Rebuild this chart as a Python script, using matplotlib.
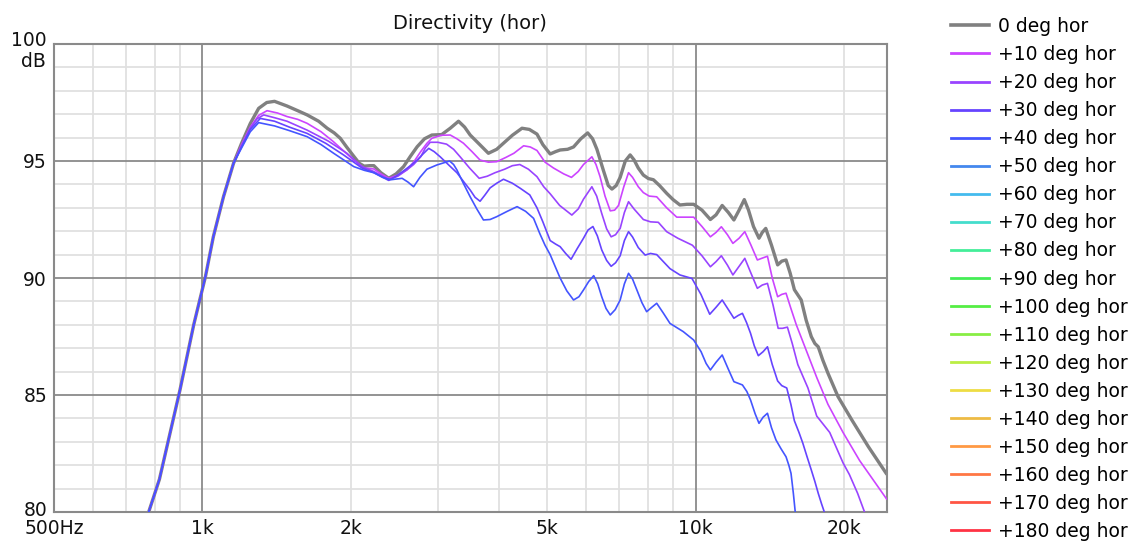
import matplotlib
matplotlib.use("Agg")
import matplotlib.pyplot as plt
from matplotlib.lines import Line2D
from matplotlib.transforms import ScaledTranslation

# ---------------- data ----------------
rise_f = [745, 778, 818, 900, 960, 1014, 1052, 1103, 1156]
rise_db = [78.5, 80.0, 81.4, 85.2, 88.0, 90.06, 91.76, 93.47, 94.9]

f_0 = rise_f + [1200, 1250, 1300, 1350, 1400, 1484, 1560, 1630, 1720, 1790, 1850, 1903, 1960,
                2027, 2080, 2127, 2180, 2226, 2300, 2386, 2470, 2557, 2640, 2725, 2820, 2918,
                3056, 3180, 3305, 3400, 3490, 3650, 3800, 3950, 4077, 4250, 4445, 4600, 4767,
                4900, 5070, 5200, 5311, 5500, 5655, 5850, 6040, 6180, 6307, 6500, 6650, 6765,
                6900, 7030, 7200, 7365, 7500, 7650, 7833, 8020, 8209, 8450, 8734, 9000, 9293,
                9600, 9908, 10300, 10712, 11000, 11319, 11650, 11955, 12250, 12550, 12800,
                13100, 13442, 13650, 13873, 14250, 14664, 14950, 15250, 15550, 15856, 16370,
                16750, 17163, 17450, 17724, 18100, 18548, 19440, 20740, 22400, 24400]
db_0 = rise_db + [95.75, 96.6, 97.25, 97.5, 97.55, 97.35, 97.15, 96.97, 96.7, 96.4, 96.2, 95.97,
                  95.6, 95.2, 94.9, 94.78, 94.8, 94.8, 94.5, 94.26, 94.45, 94.76, 95.2, 95.61,
                  95.95, 96.11, 96.13, 96.4, 96.7, 96.45, 96.11, 95.7, 95.33, 95.5, 95.76, 96.1,
                  96.4, 96.35, 96.15, 95.7, 95.3, 95.4, 95.47, 95.5, 95.6, 95.95, 96.2, 95.95,
                  95.5, 94.6, 93.95, 93.8, 93.95, 94.3, 95.0, 95.26, 95.05, 94.7, 94.4, 94.25,
                  94.2, 93.95, 93.62, 93.35, 93.12, 93.15, 93.15, 92.9, 92.5, 92.7, 93.1, 92.8,
                  92.48, 92.9, 93.35, 92.9, 92.2, 91.7, 91.95, 92.12, 91.4, 90.56, 90.72, 90.77,
                  90.2, 89.5, 89.06, 88.2, 87.49, 87.2, 87.06, 86.5, 85.93, 84.93, 83.93, 82.79,
                  81.62]

f_10 = rise_f + [1200, 1250, 1300, 1352, 1420, 1484, 1560, 1630, 1740, 1842, 1940, 2027, 2127,
                 2226, 2300, 2386, 2490, 2597, 2680, 2770, 2850, 2918, 3050, 3180, 3280, 3382,
                 3520, 3655, 3800, 3950, 4120, 4280, 4479, 4620, 4767, 4950, 5150, 5400, 5600,
                 5780, 5924, 6160, 6280, 6400, 6550, 6712, 6850, 6975, 7150, 7310, 7450, 7650,
                 7833, 8050, 8338, 8734, 9155, 9500, 9908, 10300, 10712, 11000, 11275, 11600,
                 11900, 12250, 12580, 12950, 13339, 13650, 13983, 14300, 14664, 14950, 15250,
                 15600, 16000, 16800, 17600, 18548, 19900, 21500, 24400]
db_10 = rise_db + [95.7, 96.45, 96.95, 97.15, 97.05, 96.9, 96.78, 96.61, 96.25, 95.83, 95.4,
                   95.04, 94.7, 94.66, 94.45, 94.26, 94.4, 94.62, 94.95, 95.4, 95.75, 95.97,
                   96.1, 96.11, 95.95, 95.76, 95.4, 95.04, 94.95, 94.97, 95.15, 95.33, 95.65,
                   95.6, 95.45, 94.95, 94.7, 94.45, 94.3, 94.55, 94.85, 95.18, 94.85, 94.33,
                   93.5, 92.87, 92.9, 93.1, 93.9, 94.5, 94.3, 93.9, 93.65, 93.5, 93.47, 93.0,
                   92.6, 92.6, 92.6, 92.2, 91.76, 91.95, 92.19, 91.85, 91.48, 91.7, 91.98, 91.4,
                   90.77, 90.85, 90.93, 90.0, 89.2, 89.3, 89.35, 88.7, 88.0, 86.85, 85.75, 84.6,
                   83.4, 82.2, 80.55]

f_20 = rise_f + [1200, 1250, 1290, 1331, 1400, 1484, 1630, 1800, 1963, 2106, 2226, 2386, 2490,
                 2597, 2680, 2770, 2830, 2896, 3000, 3126, 3230, 3330, 3480, 3640, 3780, 3920,
                 4100, 4250, 4400, 4580, 4767, 4920, 5070, 5300, 5610, 5780, 5924, 6160, 6300,
                 6450, 6600, 6740, 6880, 7030, 7170, 7310, 7500, 7833, 8100, 8400, 8734, 9200,
                 9850, 10300, 10712, 11000, 11275, 11600, 11900, 12250, 12580, 12950, 13339,
                 13650, 13983, 14350, 14700, 15000, 15350, 15700, 16112, 16892, 17600, 18700,
                 19900, 20500, 21300, 22000, 22300]
db_20 = rise_db + [95.65, 96.4, 96.8, 96.97, 96.85, 96.7, 96.32, 95.85, 95.33, 94.76, 94.55,
                   94.2, 94.35, 94.62, 94.85, 95.18, 95.55, 95.8, 95.8, 95.72, 95.5, 95.18,
                   94.7, 94.26, 94.35, 94.5, 94.65, 94.8, 94.85, 94.65, 94.33, 93.9, 93.6, 93.1,
                   92.69, 92.95, 93.37, 93.9, 93.5, 92.76, 92.1, 91.76, 91.85, 92.12, 92.8,
                   93.26, 92.95, 92.5, 92.4, 92.38, 91.98, 91.7, 91.4, 90.95, 90.48, 90.7, 90.95,
                   90.55, 90.13, 90.5, 90.84, 90.2, 89.56, 89.7, 89.77, 88.85, 87.85, 87.85,
                   87.9, 87.2, 86.3, 85.3, 84.1, 83.4, 82.1, 81.6, 80.8, 80.0, 79.6]

f_30 = rise_f + [1200, 1250, 1310, 1400, 1500, 1630, 1780, 1932, 2106, 2226, 2386, 2470, 2557,
                 2640, 2725, 2800, 2876, 2950, 3034, 3150, 3280, 3390, 3490, 3570, 3655, 3740,
                 3830, 3950, 4077, 4250, 4412, 4610, 4767, 4900, 5070, 5200, 5311, 5450, 5590,
                 5750, 5924, 6050, 6190, 6320, 6450, 6600, 6740, 6880, 7030, 7170, 7310, 7450,
                 7650, 7900, 8100, 8338, 8600, 8871, 9293, 9830, 10250, 10680, 11000, 11319,
                 11650, 11955, 12200, 12440, 12680, 12920, 13150, 13400, 13700, 13983, 14300,
                 14664, 14950, 15300, 15600, 15856, 16200, 16494, 16800, 17163, 17450, 17724,
                 18000, 18234, 18500]
db_30 = rise_db + [95.6, 96.35, 96.82, 96.7, 96.45, 96.18, 95.75, 95.26, 94.7, 94.5, 94.17,
                   94.35, 94.58, 94.8, 95.04, 95.3, 95.54, 95.4, 95.18, 94.85, 94.5, 94.1, 93.76,
                   93.45, 93.28, 93.55, 93.85, 94.05, 94.22, 94.05, 93.83, 93.55, 93.0, 92.4,
                   91.6, 91.45, 91.34, 91.05, 90.8, 91.25, 91.7, 92.05, 92.2, 91.8, 91.2, 90.75,
                   90.5, 90.65, 90.95, 91.6, 91.98, 91.75, 91.3, 90.98, 91.05, 91.0, 90.7, 90.4,
                   90.13, 89.98, 89.3, 88.45, 88.75, 89.06, 88.65, 88.28, 88.4, 88.49, 88.1,
                   87.64, 87.1, 86.68, 86.85, 87.06, 86.3, 85.6, 85.4, 85.3, 84.6, 83.9, 83.4,
                   82.94, 82.4, 81.79, 81.3, 80.8, 80.35, 80.0, 79.6]

f_40 = rise_f + [1200, 1250, 1300, 1400, 1500, 1630, 1740, 1845, 2027, 2130, 2226, 2320, 2410,
                 2540, 2610, 2680, 2760, 2852, 2987, 3170, 3230, 3280, 3380, 3490, 3600, 3713,
                 3830, 3950, 4150, 4345, 4520, 4692, 4830, 4950, 5070, 5200, 5311, 5480, 5655,
                 5800, 5924, 6070, 6213, 6330, 6450, 6580, 6712, 6870, 7030, 7170, 7310, 7450,
                 7600, 7780, 7955, 8150, 8338, 8600, 8871, 9435, 9908, 10257, 10500, 10712,
                 11000, 11319, 11650, 11955, 12440, 12700, 12920, 13200, 13442, 13700, 13983,
                 14250, 14550, 14900, 15250, 15450, 15610, 15780, 15920, 16100]
db_40 = rise_db + [95.55, 96.25, 96.64, 96.5, 96.3, 96.04, 95.7, 95.33, 94.76, 94.6, 94.5,
                   94.3, 94.2, 94.26, 94.1, 93.9, 94.3, 94.65, 94.83, 95.0, 94.85, 94.62, 94.05,
                   93.47, 92.95, 92.48, 92.5, 92.62, 92.85, 93.05, 92.85, 92.55, 91.9, 91.4,
                   91.0, 90.45, 90.0, 89.45, 89.06, 89.2, 89.49, 89.85, 90.1, 89.75, 89.2, 88.7,
                   88.42, 88.65, 89.06, 89.75, 90.2, 89.95, 89.49, 88.95, 88.56, 88.75, 88.92,
                   88.5, 88.06, 87.71, 87.35, 86.85, 86.35, 86.07, 86.4, 86.71, 86.1, 85.57,
                   85.43, 85.15, 84.79, 84.2, 83.79, 84.05, 84.22, 83.6, 83.08, 82.7, 82.36,
                   82.0, 81.65, 80.8, 80.0, 79.2]

angles = [0, 10, 20, 30, 40, 50, 60, 70, 80, 90, 100, 110, 120, 130, 140, 150, 160, 170, 180]
labels = ["0 deg hor"] + ["+%d deg hor" % a for a in angles[1:]]
colors = ["#808080", "#cc44ff", "#9944ff", "#6644ff", "#4455ff", "#4488ee", "#44bbee",
          "#44ddcc", "#44ee99", "#44ee55", "#55ee44", "#88ee44", "#bbee44", "#eedd44",
          "#eebb44", "#ff9944", "#ff7744", "#ff5544", "#ff3344"]

curves = [(f_0, db_0), (f_10, db_10), (f_20, db_20), (f_30, db_30), (f_40, db_40)]

x_major_grid = [1000, 10000]
x_minor_grid = [600, 700, 800, 900, 2000, 3000, 4000, 5000, 6000, 7000, 8000, 9000, 20000]
x_ticks = [500, 1000, 2000, 5000, 10000, 20000]
x_ticklabels = ["500Hz", "1k", "2k", "5k", "10k", "20k"]
y_ticks = [80, 85, 90, 95, 100]
y_ticklabels = ["80", "85", "90", "95", "100"]

# ---------------- figure ----------------
W, H = 1134, 542
FS = 13.5
plt.rcParams["font.family"] = ["DejaVu Sans"]
TXT = "#111111"

fig = plt.figure(figsize=(W / 100, H / 100), dpi=100)
x0, x1, yt, yb = 54, 886.7, 44, 512
ax = fig.add_axes([x0 / W, 1 - yb / H, (x1 - x0) / W, (yb - yt) / H])
ax.set_xscale("log")
ax.set_xlim(500, 24400)
ax.set_ylim(80, 100)

minor_c = "#e0e0e0"
major_c = "#8a8a8a"
for f in x_minor_grid:
    ax.axvline(f, color=minor_c, lw=1.3, zorder=0)
for v in range(81, 100):
    if v % 5:
        ax.axhline(v, color=minor_c, lw=1.3, zorder=0)
for f in x_major_grid:
    ax.axvline(f, color=major_c, lw=1.3, zorder=0.5)
for v in [85, 90, 95]:
    ax.axhline(v, color=major_c, lw=1.3, zorder=0.5)

for sp in ax.spines.values():
    sp.set_color(major_c)
    sp.set_linewidth(1.5)

ax.set_xticks(x_ticks)
ax.set_xticklabels(x_ticklabels)
ax.xaxis.set_minor_locator(matplotlib.ticker.NullLocator())
ax.set_yticks(y_ticks)
ax.set_yticklabels(y_ticklabels)
ax.tick_params(axis="both", length=0, labelsize=FS, colors=TXT)
ax.tick_params(axis="x", pad=5)
ax.tick_params(axis="y", pad=5)

# nudge the 80 and 100 labels up a little, as in the reference
ylabs = ax.get_yticklabels()
ylabs[0].set_transform(ylabs[0].get_transform() + ScaledTranslation(0, 3 / 100, fig.dpi_scale_trans))
ylabs[-1].set_transform(ylabs[-1].get_transform() + ScaledTranslation(0, 5 / 100, fig.dpi_scale_trans))

fig.text(46 / W, 1 - 52 / H, "dB", ha="right", va="top", fontsize=FS, color=TXT)

for i, (f, d) in enumerate(curves):
    lw = 2.4 if i == 0 else 1.2
    ax.plot(f, d, color=colors[i], lw=lw, solid_joinstyle="round", solid_capstyle="round",
            zorder=2 + i)

ax.set_title("Directivity (hor)", fontsize=14, pad=11, color=TXT)

handles = [Line2D([], [], color=c, lw=(2.6 if i == 0 else 2.0)) for i, c in enumerate(colors)]
fig.legend(handles, labels, loc="upper left", bbox_to_anchor=(951 / W, 1 - 17 / H),
           frameon=False, fontsize=FS, handlelength=2.05, handletextpad=0.45,
           labelspacing=0.483, borderpad=0, borderaxespad=0)

fig.savefig("out.png", dpi=100, facecolor="white")
